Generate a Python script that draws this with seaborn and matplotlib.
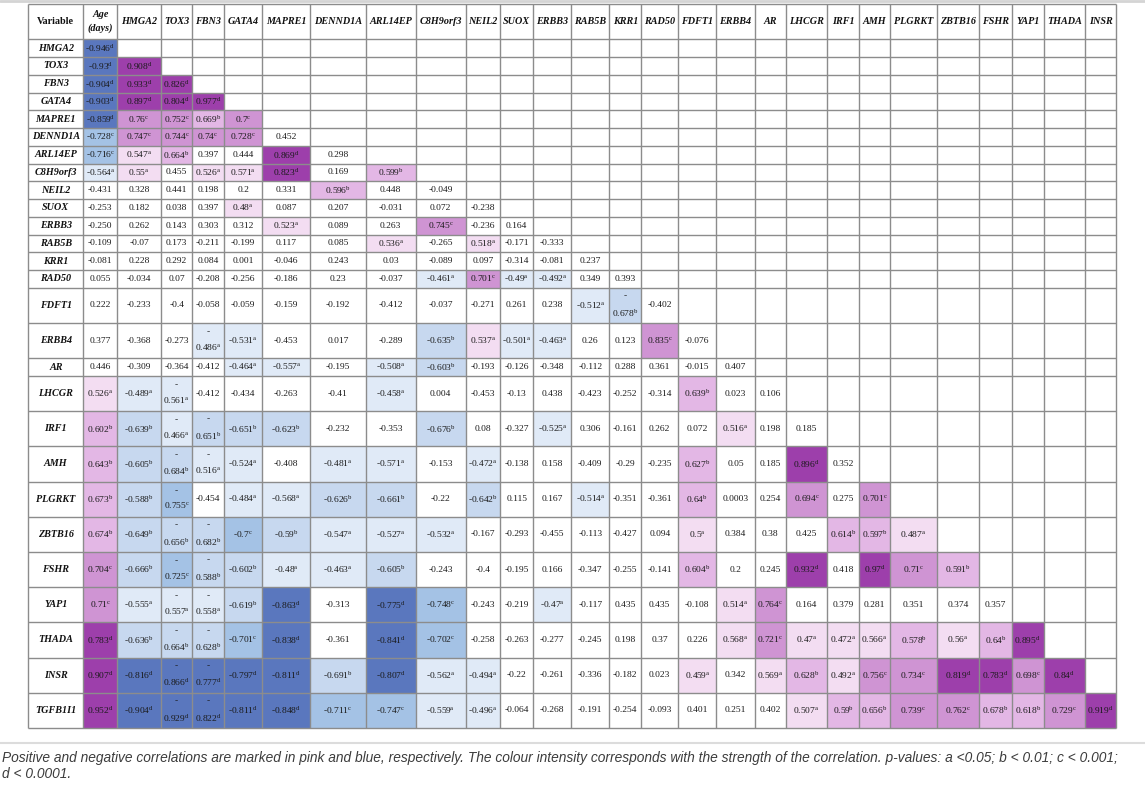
import numpy as np
import matplotlib
matplotlib.use("Agg")
import matplotlib.pyplot as plt
import seaborn as sns
from matplotlib.colors import ListedColormap
from matplotlib.lines import Line2D

# row variables (the first 26 also head the columns, after Age)
variables = ["HMGA2", "TOX3", "FBN3", "GATA4", "MAPRE1", "DENND1A", "ARL14EP",
             "C8H9orf3", "NEIL2", "SUOX", "ERBB3", "RAB5B", "KRR1", "RAD50",
             "FDFT1", "ERBB4", "AR", "LHCGR", "IRF1", "AMH", "PLGRKT", "ZBTB16",
             "FSHR", "YAP1", "THADA", "INSR", "TGFB1I1"]

# correlation coefficients, lower triangle (Age first)
r_values = [
    ["-0.946"],
    ["-0.93", "0.908"],
    ["-0.904", "0.933", "0.826"],
    ["-0.903", "0.897", "0.804", "0.977"],
    ["-0.859", "0.76", "0.752", "0.669", "0.7"],
    ["-0.728", "0.747", "0.744", "0.74", "0.728", "0.452"],
    ["-0.716", "0.547", "0.664", "0.397", "0.444", "0.869", "0.298"],
    ["-0.564", "0.55", "0.455", "0.526", "0.571", "0.823", "0.169", "0.599"],
    ["-0.431", "0.328", "0.441", "0.198", "0.2", "0.331", "0.596", "0.448", "-0.049"],
    ["-0.253", "0.182", "0.038", "0.397", "0.48", "0.087", "0.207", "-0.031", "0.072", "-0.238"],
    ["-0.250", "0.262", "0.143", "0.303", "0.312", "0.523", "0.089", "0.263", "0.745", "-0.236", "0.164"],
    ["-0.109", "-0.07", "0.173", "-0.211", "-0.199", "0.117", "0.085", "0.536", "-0.265", "0.518",
     "-0.171", "-0.333"],
    ["-0.081", "0.228", "0.292", "0.084", "0.001", "-0.046", "0.243", "0.03", "-0.089", "0.097",
     "-0.314", "-0.081", "0.237"],
    ["0.055", "-0.034", "0.07", "-0.208", "-0.256", "-0.186", "0.23", "-0.037", "-0.461", "0.701",
     "-0.49", "-0.492", "0.349", "0.393"],
    ["0.222", "-0.233", "-0.4", "-0.058", "-0.059", "-0.159", "-0.192", "-0.412", "-0.037", "-0.271",
     "0.261", "0.238", "-0.512", "-0.678", "-0.402"],
    ["0.377", "-0.368", "-0.273", "-0.486", "-0.531", "-0.453", "0.017", "-0.289", "-0.635", "0.537",
     "-0.501", "-0.463", "0.26", "0.123", "0.835", "-0.076"],
    ["0.446", "-0.309", "-0.364", "-0.412", "-0.464", "-0.557", "-0.195", "-0.508", "-0.603", "-0.193",
     "-0.126", "-0.348", "-0.112", "0.288", "0.361", "-0.015", "0.407"],
    ["0.526", "-0.489", "-0.561", "-0.412", "-0.434", "-0.263", "-0.41", "-0.458", "0.004", "-0.453",
     "-0.13", "0.438", "-0.423", "-0.252", "-0.314", "0.639", "0.023", "0.106"],
    ["0.602", "-0.639", "-0.466", "-0.651", "-0.651", "-0.623", "-0.232", "-0.353", "-0.676", "0.08",
     "-0.327", "-0.525", "0.306", "-0.161", "0.262", "0.072", "0.516", "0.198", "0.185"],
    ["0.643", "-0.605", "-0.684", "-0.516", "-0.524", "-0.408", "-0.481", "-0.571", "-0.153", "-0.472",
     "-0.138", "0.158", "-0.409", "-0.29", "-0.235", "0.627", "0.05", "0.185", "0.896", "0.352"],
    ["0.673", "-0.588", "-0.755", "-0.454", "-0.484", "-0.568", "-0.626", "-0.661", "-0.22", "-0.642",
     "0.115", "0.167", "-0.514", "-0.351", "-0.361", "0.64", "0.0003", "0.254", "0.694", "0.275", "0.701"],
    ["0.674", "-0.649", "-0.656", "-0.682", "-0.7", "-0.59", "-0.547", "-0.527", "-0.532", "-0.167",
     "-0.293", "-0.455", "-0.113", "-0.427", "0.094", "0.5", "0.384", "0.38", "0.425", "0.614", "0.597",
     "0.487"],
    ["0.704", "-0.666", "-0.725", "-0.588", "-0.602", "-0.48", "-0.463", "-0.605", "-0.243", "-0.4",
     "-0.195", "0.166", "-0.347", "-0.255", "-0.141", "0.604", "0.2", "0.245", "0.932", "0.418", "0.97",
     "0.71", "0.591"],
    ["0.71", "-0.555", "-0.557", "-0.558", "-0.619", "-0.863", "-0.313", "-0.775", "-0.748", "-0.243",
     "-0.219", "-0.47", "-0.117", "0.435", "0.435", "-0.108", "0.514", "0.764", "0.164", "0.379", "0.281",
     "0.351", "0.374", "0.357"],
    ["0.783", "-0.636", "-0.664", "-0.628", "-0.701", "-0.838", "-0.361", "-0.841", "-0.702", "-0.258",
     "-0.263", "-0.277", "-0.245", "0.198", "0.37", "0.226", "0.568", "0.721", "0.47", "0.472", "0.566",
     "0.578", "0.56", "0.64", "0.895"],
    ["0.907", "-0.816", "-0.866", "-0.777", "-0.797", "-0.811", "-0.691", "-0.807", "-0.562", "-0.494",
     "-0.22", "-0.261", "-0.336", "-0.182", "0.023", "0.459", "0.342", "0.569", "0.628", "0.492", "0.756",
     "0.734", "0.819", "0.783", "0.698", "0.84"],
    ["0.952", "-0.904", "-0.929", "-0.822", "-0.811", "-0.848", "-0.711", "-0.747", "-0.559", "-0.496",
     "-0.064", "-0.268", "-0.191", "-0.254", "-0.093", "0.401", "0.251", "0.402", "0.507", "0.59", "0.656",
     "0.739", "0.762", "0.678", "0.618", "0.729", "0.919"],
]

# p-value letters per cell ("-" = not significant)
sig = ["d", "dd", "ddd", "dddd", "dccbc", "ccccc-", "cab--d-", "aa-aad-b", "------b--",
       "----a-----", "-----a--c--", "-------a-a--", "-------------", "--------acaa--",
       "------------ab-", "---aa---baaa--c-", "----aa-ab--------", "aaa----a-------b--",
       "bbabbb--b--a----a--", "bbbaa-aa-a-----b--d-", "bbc-aabb-b--a--b--c-c",
       "bbbbcbaaa------a---bba", "cbcbbaab-------b--d-dcb", "caaabd-dc--a----ac------",
       "dbbbcd-dc-------acaaababd", "ddddddbdaa-----a-abaccddcd", "ddddddccaa--------abbccbbcd"]

caption = ("Positive and negative correlations are marked in pink and blue, respectively. "
           "The colour intensity corresponds with the strength of the correlation. "
           "p-values: a <0.05; b < 0.01; c < 0.001;\nd < 0.0001.")

columns = ["Age\n(days)"] + variables[:26]
levels = {"-": 0, "a": 1, "b": 2, "c": 3, "d": 4}
narrow = {"TOX3", "FBN3", "KRR1"}

# colours: dark blue .. white .. dark purple
palette = ["#5a77be", "#a4c2e5", "#c7d8ef", "#e0eaf7", "#ffffff",
           "#f3ddf2", "#e3b7e5", "#cf94d3", "#9d3fab"]
cmap = ListedColormap(palette)

sns.set_style("white")
plt.rcParams["font.family"] = ["Liberation Serif", "DejaVu Serif"]
plt.rcParams["mathtext.fontset"] = "custom"
plt.rcParams["mathtext.rm"] = "Liberation Serif"

n_rows = len(variables) + 1
n_cols = len(columns) + 1
M = np.zeros((n_rows, n_cols))
wrapped = np.zeros((n_rows, n_cols), dtype=bool)
for i, (vals, s) in enumerate(zip(r_values, sig)):
    for j, (v, letter) in enumerate(zip(vals, s)):
        sign = -1 if v.startswith("-") else 1
        M[i + 1, j + 1] = sign * levels[letter]
        if sign < 0 and letter != "-" and columns[j] in narrow:
            wrapped[i + 1, j + 1] = True

# cell geometry in pixels (columns have their own widths, rows one or two lines)
x_edges = [28.3, 83.3, 117.3, 161, 192.3, 224, 262.3, 310, 365.7, 415.7, 465.7, 500,
           533.3, 571.3, 609.3, 641.3, 678.3, 716.3, 754.7, 786, 827.3, 859, 890.3,
           936.7, 979.3, 1012, 1043.7, 1085, 1116]
row_h = [35.0] + [35.2 if wrapped[i].any() else 17.75 for i in range(1, n_rows)]
y_edges = np.r_[4.3, 4.3 + np.cumsum(row_h)]


def make_scale(edges):
    e = np.asarray(edges, float)
    idx = np.arange(len(e), dtype=float)
    idx = np.r_[-1e4, idx, idx[-1] + 1e4]
    e = np.r_[e[0] - 1e4 * (e[1] - e[0]), e, e[-1] + 1e4 * (e[-1] - e[-2])]
    return (lambda v: np.interp(v, idx, e)), (lambda p: np.interp(p, e, idx))


W, H = 1145, 786
fig = plt.figure(figsize=(W / 100, H / 100), dpi=100)
ax = fig.add_axes([0, 0, 1, 1])
sns.heatmap(M, ax=ax, cmap=cmap, vmin=-4.5, vmax=4.5, cbar=False,
            linewidths=0, xticklabels=False, yticklabels=False)

fx, ix = make_scale(x_edges)
fy, iy = make_scale(y_edges)
ax.set_xscale("function", functions=(fx, ix))
ax.set_yscale("function", functions=(fy, iy))
ax.set_xlim(ix(0), ix(W))
ax.set_ylim(iy(H), iy(0))
ax.axis("off")

# table rules
ax.vlines(np.arange(n_cols + 1), 0, n_rows, color="#8c8c8c", lw=1.0)
ax.hlines(np.arange(n_rows + 1), 0, n_cols, color="#8c8c8c", lw=1.0)

lab_kw = dict(ha="center", va="center", fontsize=7.3, fontweight="bold", color="#111111")
ax.text(0.5, 0.5, "Variable", **lab_kw)
for j, c in enumerate(columns):
    ax.text(j + 1.5, 0.5, c, style="italic", linespacing=1.6, **lab_kw)
for i, v in enumerate(variables):
    ax.text(0.5, i + 1.5, v, style="italic", **lab_kw)

for i, (vals, s) in enumerate(zip(r_values, sig)):
    for j, (v, letter) in enumerate(zip(vals, s)):
        sup = "" if letter == "-" else r"$^{\mathrm{%s}}$" % letter
        txt = v + sup
        if wrapped[i + 1, j + 1]:
            txt = "-\n" + v[1:] + sup
        ax.text(j + 1.5, i + 1.5, txt, ha="center", va="center", fontsize=6.8,
                linespacing=1.7, color="#1a1a1a")

fig.add_artist(Line2D([0, 1], [1 - 1 / H, 1 - 1 / H], color="#d4d4d4", lw=2))
fig.add_artist(Line2D([0, 1], [1 - 743 / H, 1 - 743 / H], color="#dcdcdc", lw=1.5))
fig.text(2 / W, 1 - 751 / H, caption, ha="left", va="top", fontsize=9.95,
         family="Liberation Sans", style="italic", color="#3c3c3c", linespacing=1.15)

fig.savefig("out.png", dpi=100)
